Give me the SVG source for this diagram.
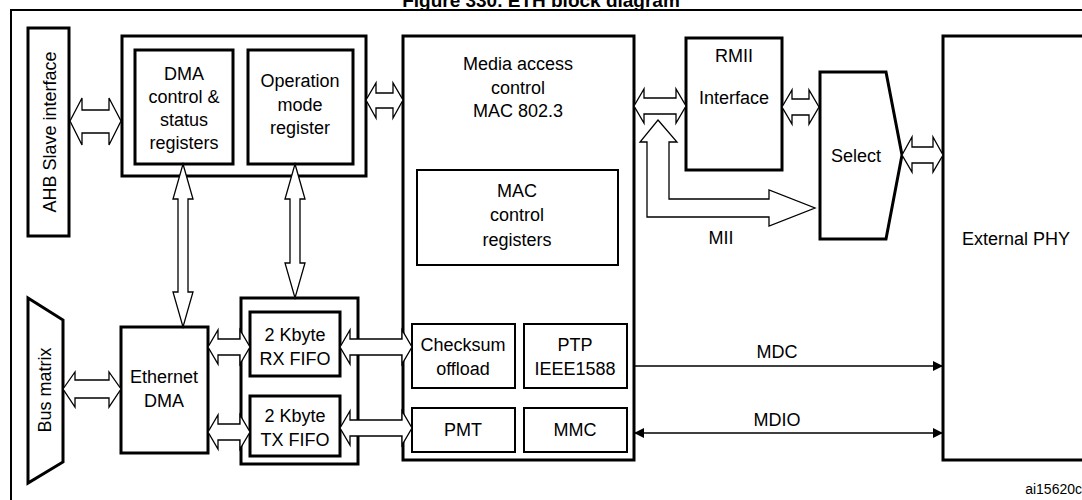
<svg xmlns="http://www.w3.org/2000/svg" width="1082" height="500" viewBox="0 0 1082 500">
<defs>
<style>
text{font-family:"Liberation Sans",Arial,sans-serif;font-size:18px;fill:#000;text-anchor:middle}
.b{fill:#fff;stroke:#000;stroke-width:3}
.t{fill:#fff;stroke:#000;stroke-width:2}
.a{fill:#fff;stroke:#000;stroke-width:1.3}
.l{stroke:#000;stroke-width:1.3;fill:none}
</style>
<marker id="ah" viewBox="0 0 10 10" refX="10" refY="5" markerWidth="10" markerHeight="10" markerUnits="userSpaceOnUse" orient="auto-start-reverse"><path d="M0,0L10,5L0,10z" fill="#000"/></marker>
</defs>
<rect width="1082" height="500" fill="#fff"/>
<text x="541" y="7" style="font-weight:bold;font-size:19px">Figure 330. ETH block diagram</text>
<path d="M11,500V10H1082" fill="none" stroke="#000" stroke-width="2"/>
<text x="1082" y="494" style="font-size:14px;text-anchor:end">ai15620c</text>

<g id="ahb"><rect class="b" x="28" y="28" width="41" height="208"/><text transform="translate(56,132) rotate(-90)">AHB Slave interface</text></g>
<g id="regs"><rect class="b" x="122" y="36" width="244" height="140"/></g>
<g id="dmareg"><rect class="b" x="135" y="50" width="98" height="114"/><text x="184" y="80">DMA</text><text x="184" y="103">control &amp;</text><text x="184" y="126">status</text><text x="184" y="149">registers</text></g>
<g id="opmode"><rect class="b" x="248" y="50" width="105" height="114"/><text x="300" y="87">Operation</text><text x="300" y="111">mode</text><text x="300" y="134">register</text></g>
<g id="mac"><rect class="b" x="403" y="36" width="231" height="424"/><text x="518" y="70">Media access</text><text x="518" y="94">control</text><text x="518" y="117">MAC 802.3</text></g>
<g id="macreg"><rect class="t" x="417" y="170" width="201" height="95"/><text x="517" y="197">MAC</text><text x="517" y="221">control</text><text x="517" y="246">registers</text></g>
<g id="csum"><rect class="t" x="412" y="324" width="103" height="64"/><text x="463" y="351">Checksum</text><text x="463" y="375">offload</text></g>
<g id="ptp"><rect class="t" x="524" y="324" width="103" height="64"/><text x="575" y="351">PTP</text><text x="575" y="375">IEEE1588</text></g>
<g id="pmt"><rect class="t" x="412" y="408" width="103" height="44"/><text x="463" y="436">PMT</text></g>
<g id="mmc"><rect class="t" x="524" y="408" width="103" height="44"/><text x="575" y="436">MMC</text></g>
<g id="busmatrix"><path class="b" d="M28,298L63,320V462L28,483Z"/><text transform="translate(51,390) rotate(-90)">Bus matrix</text></g>
<g id="ethdma"><rect class="b" x="121" y="327" width="87" height="126"/><text x="164" y="383">Ethernet</text><text x="164" y="407">DMA</text></g>
<g id="fifos"><rect class="b" x="241" y="298" width="117" height="166"/></g>
<g id="rxfifo"><rect class="b" x="250" y="312" width="90" height="64"/><text x="295" y="341">2 Kbyte</text><text x="295" y="365">RX FIFO</text></g>
<g id="txfifo"><rect class="b" x="250" y="396" width="90" height="60"/><text x="295" y="422">2 Kbyte</text><text x="295" y="446">TX FIFO</text></g>
<g id="rmii"><rect class="b" x="686" y="38" width="96" height="132"/><text x="734" y="62">RMII</text><text x="734" y="104">Interface</text></g>
<g id="select"><path class="b" d="M820,72H886L902,155L886,239H820Z"/><text x="856" y="162">Select</text></g>
<g id="phy"><rect class="b" x="943" y="36" width="145" height="424"/><text x="1016" y="245">External PHY</text></g>

<g id="connectors">
<path class="a" d="M70,121L82,98V110H109V98L121,121L109,145V133H82V145Z"/>
<path class="a" d="M366,100L376,83V93H393V83L403,100L393,118V108H376V118Z"/>
<path class="a" d="M634,106L644,89V98H676V89L686,106L676,123V114H644V123Z"/>
<path class="a" d="M782,107L792,90V99H809V90L819,107L809,124V115H792V124Z"/>
<path class="a" d="M902,155L912,137V147H933V137L943,155L933,172V163H912V172Z"/>
<path class="a" d="M658,120L677,142H669V199H769V190L815,208L769,226V217H647V142H640Z"/>
<path class="a" d="M63,389L75,372V380H109V372L121,389L109,407V398H75V407Z"/>
<path class="a" d="M208,347L218,330V339H240V330L250,347L240,364V355H218V364Z"/>
<path class="a" d="M208,432L218,415V424H240V415L250,432L240,449V440H218V449Z"/>
<path class="a" d="M340,347L350,330V339H402V330L412,347L402,364V355H350V364Z"/>
<path class="a" d="M340,428L350,411V420H402V411L412,428L402,445V436H350V445Z"/>
<path class="a" d="M183,164L193,199H188V292H193L183,327L173,292H178V199H173Z"/>
<path class="a" d="M295,164L305,199H300V263H305L295,298L285,263H290V199H285Z"/>
<line class="l" x1="634" y1="366" x2="943" y2="366" marker-end="url(#ah)"/>
<line class="l" x1="634" y1="433" x2="943" y2="433" marker-start="url(#ah)" marker-end="url(#ah)"/>
<text x="721" y="244">MII</text>
<text x="777" y="358">MDC</text>
<text x="777" y="426">MDIO</text>
</g>
</svg>
